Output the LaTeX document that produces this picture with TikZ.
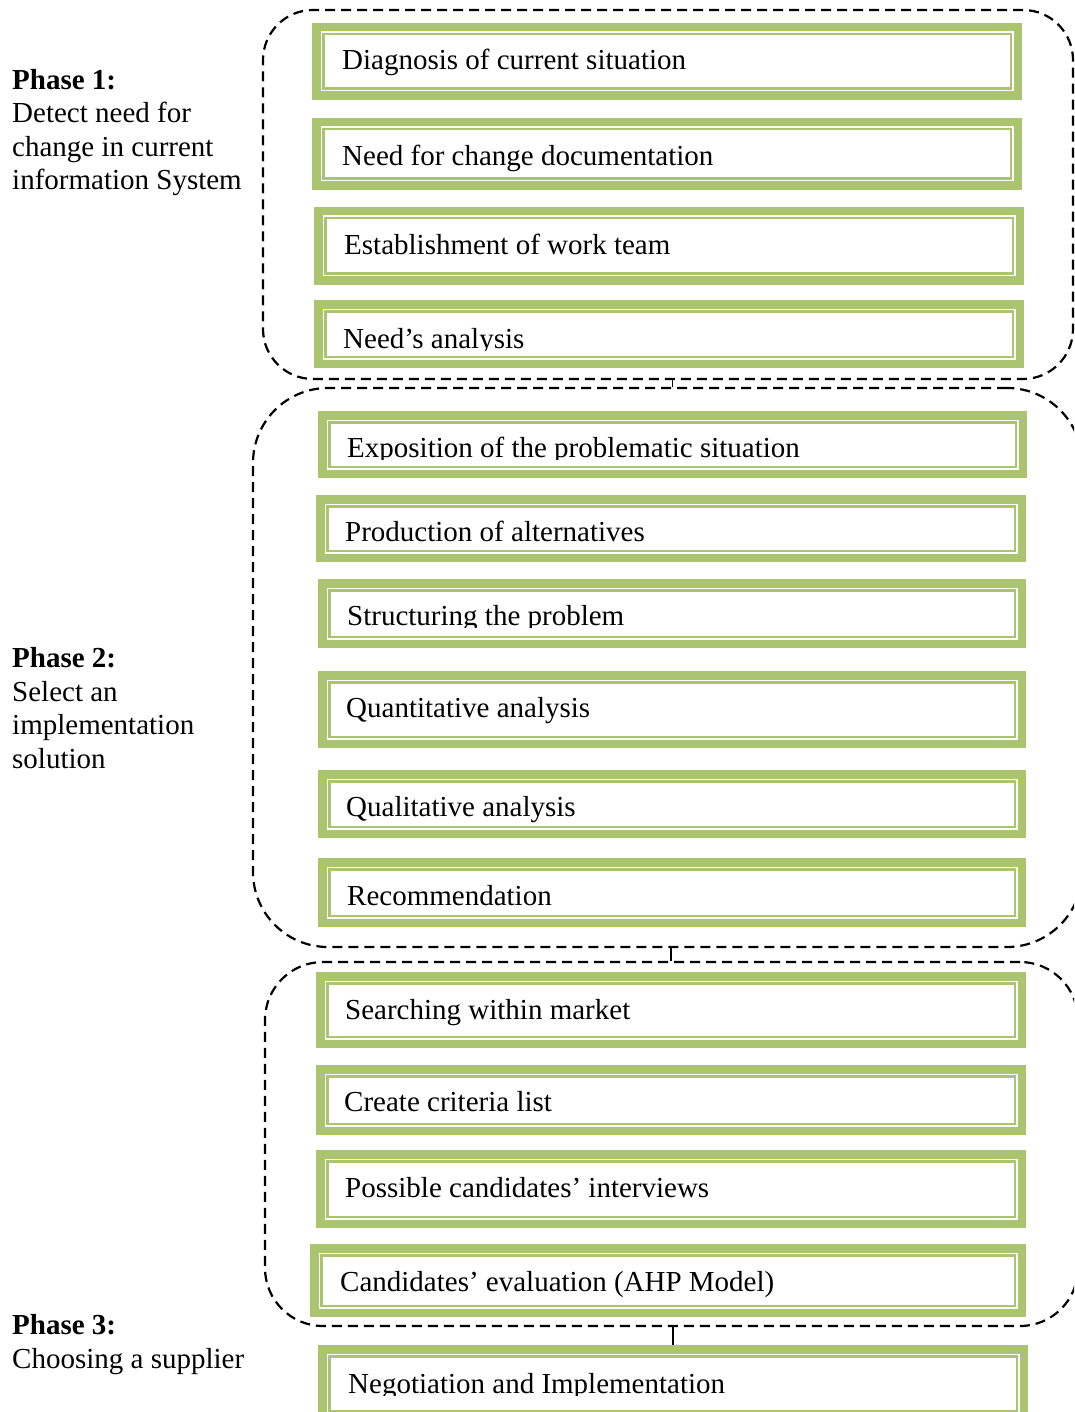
\documentclass[tikz,border=0pt]{standalone}
\usepackage{fontspec}
\setmainfont{Liberation Serif}
\definecolor{gr}{HTML}{ABC46F}
\tikzset{
  gbx/.style={rectangle, inner sep=0pt, fill=gr, path picture={
    \fill[white] ([xshift=8.5pt,yshift=-8.5pt]path picture bounding box.north west) rectangle ([xshift=-8.5pt,yshift=8.5pt]path picture bounding box.south east);
    \draw[gr, line width=2.5pt] ([xshift=11.25pt,yshift=-11.25pt]path picture bounding box.north west) rectangle ([xshift=-11.25pt,yshift=11.25pt]path picture bounding box.south east);
  }},
  lbl/.style={inner sep=0pt, anchor=base west, font={\fontsize{29}{33.5}\selectfont}},
  grp/.style={rectangle, inner sep=0pt, draw=black, line width=2.2pt, dash pattern=on 10pt off 6pt},
  conn/.style={draw=black, line width=1.6pt},
  phase/.style={inner sep=0pt, anchor=base west, align=left, font={\fontsize{29}{33.5}\selectfont}}
}
\newcommand\gbox[8]{%
  \node[gbx, minimum width={#4-#2}, minimum height={#5-#3}] (#1) at ({(#2+#4)/2},{(#3+#5)/2}) {};
  \node[lbl] (#1t) at (#6,#7+1.5) {#8};
}
\newcommand\gboxc[8]{%
  \node[gbx, minimum width={#4-#2}, minimum height={#5-#3}] (#1) at ({(#2+#4)/2},{(#3+#5)/2}) {};
  \begin{scope}
    \clip (#2,#3) rectangle (#4,#7+3);
    \node[lbl] (#1t) at (#6,#7+1.5) {#8};
  \end{scope}
}
\begin{document}
\begin{tikzpicture}[x=1pt,y=-1pt]
\useasboundingbox (0,0) rectangle (1074,1412);
\clip (0,0) rectangle (1074,1412);

% dashed phase groups
\node[grp, rounded corners=50pt, minimum width=810, minimum height=369] (g1) at (668,194.5) {};
\node[grp, rounded corners=75pt, minimum width=829, minimum height=559] (g2) at (667.5,667.5) {};
\node[grp, rounded corners=58pt, minimum width=813, minimum height=364] (g3) at (671.5,1144) {};

% boxes
\gbox{b1}{312}{23}{1022}{100}{342}{68}{Diagnosis of current situation}
\gbox{b2}{312}{118}{1022}{190}{342}{164}{Need for change documentation}
\gbox{b3}{314}{207}{1024}{285}{344}{253}{Establishment of work team}
\gboxc{b4}{314}{300}{1024}{368}{343}{347}{Need’s analysis}

\gboxc{b5}{318}{411}{1027}{478}{347}{456}{Exposition of the problematic situation}
\gbox{b6}{316}{495}{1026}{562}{345}{540}{Production of alternatives}
\gboxc{b7}{318}{579}{1026}{648}{347}{624}{Structuring the problem}
\gbox{b8}{318}{671}{1026}{748}{346}{716}{Quantitative analysis}
\gbox{b9}{318}{770}{1026}{838}{346}{815}{Qualitative analysis}
\gbox{b10}{318}{858}{1026}{927}{347}{904}{Recommendation}

\gbox{b11}{316}{972}{1026}{1048}{345}{1018}{Searching within market}
\gbox{b12}{316}{1065}{1026}{1135}{344}{1110}{Create criteria list}
\gbox{b13}{316}{1150}{1026}{1228}{345}{1196}{Possible candidates’ interviews}
\gbox{b14}{310}{1244}{1026}{1317}{340}{1290}{Candidates’ evaluation (AHP Model)}
\gboxc{b15}{318}{1345}{1028}{1422}{348}{1392}{Negotiation and Implementation}

% connectors
\draw[conn] (g1.south -| b5.north) -- (b5.north |- g2.north);
\draw[conn] (g2.south -| b11.north) -- (b11.north |- g3.north);
\draw[conn] (g3.south -| b15.north) -- (b15.north);

% phase labels (base anchor = last line)
\node[phase] (p1) at (12,190) {\textbf{Phase 1:}\\Detect need for\\change in current\\information System};
\node[phase] (p2) at (12,768) {\textbf{Phase 2:}\\Select an\\implementation\\solution};
\node[phase] (p3) at (12,1368) {\textbf{Phase 3:}\\Choosing a supplier};
\end{tikzpicture}
\end{document}
